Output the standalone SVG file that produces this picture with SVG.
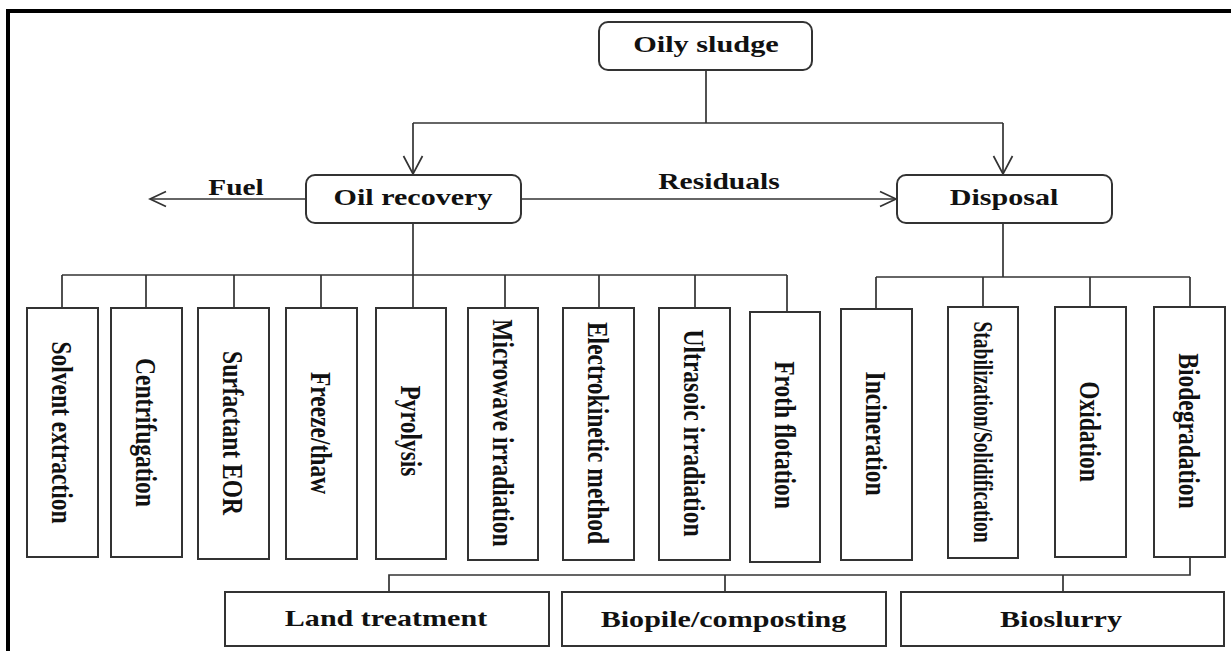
<svg xmlns="http://www.w3.org/2000/svg" width="1231" height="651" viewBox="0 0 1231 651">
<style>
.box{fill:#fff;stroke:#333;stroke-width:2}
.ln{fill:none;stroke:#333;stroke-width:1.7}
.t{font-family:"Liberation Serif","Times New Roman",serif;font-weight:bold;font-size:23.5px;fill:#111;text-anchor:middle}
</style>
<defs>
<marker id="arrH" markerUnits="userSpaceOnUse" markerWidth="20" markerHeight="20" viewBox="-18 -10 20 20" refX="0" refY="0" orient="auto">
<path d="M-16,-7.5 L0,0 L-16,7.5" fill="none" stroke="#333" stroke-width="1.7"/>
</marker>
<marker id="arrV" markerUnits="userSpaceOnUse" markerWidth="24" markerHeight="24" viewBox="-20 -12 22 24" refX="0" refY="0" orient="auto">
<path d="M-18,-9.5 L0,0 L-18,9.5" fill="none" stroke="#333" stroke-width="1.7"/>
</marker>
</defs>
<rect width="1231" height="651" fill="#fff"/>
<path d="M8,660 V11 H1240" fill="none" stroke="#000" stroke-width="4"/>

<g id="connectors">
<path class="ln" d="M706,70 V123"/>
<path class="ln" d="M413,123 H1003"/>
<path class="ln" d="M413,123 V174" marker-end="url(#arrV)"/>
<path class="ln" d="M1003,123 V174" marker-end="url(#arrV)"/>
<path class="ln" d="M306,199 H150" marker-end="url(#arrH)"/>
<path class="ln" d="M521,199 H896" marker-end="url(#arrH)"/>
<path class="ln" d="M413,223 V275"/>
<path class="ln" d="M62,275 H787"/>
<path class="ln" d="M62,275 V308 M146,275 V308 M234,275 V308 M321,275 V308 M413,275 V308 M505,275 V308 M599,275 V308 M695,275 V308 M787,275 V312"/>
<path class="ln" d="M1003,223 V277"/>
<path class="ln" d="M876,277 H1190"/>
<path class="ln" d="M876,277 V309 M983,277 V307 M1090,277 V307 M1190,277 V307"/>
<path class="ln" d="M1190,557 V575 H389 V592 M725,575 V592 M1063,575 V592"/>
<text class="t" transform="translate(236,195) scale(1.25,1)">Fuel</text>
<text class="t" transform="translate(719,189) scale(1.26,1)">Residuals</text>
</g>

<g id="oily-sludge">
<rect class="box" x="599" y="22" width="213" height="48" rx="9"/>
<text class="t" transform="translate(706,52) scale(1.29,1)">Oily sludge</text>
</g>
<g id="oil-recovery">
<rect class="box" x="306" y="175" width="215" height="48" rx="9"/>
<text class="t" transform="translate(413,205) scale(1.28,1)">Oil recovery</text>
</g>
<g id="disposal">
<rect class="box" x="897" y="175" width="215" height="48" rx="9"/>
<text class="t" transform="translate(1004,205) scale(1.28,1)">Disposal</text>
</g>

<g id="solvent-extraction">
<rect class="box" x="27" y="308" width="71" height="249"/>
<text class="t" transform="translate(62.5,432.5) rotate(90) scale(1,1.27)" y="8">Solvent extraction</text>
</g>
<g id="centrifugation">
<rect class="box" x="111" y="308" width="71" height="249"/>
<text class="t" transform="translate(146.5,432.5) rotate(90) scale(1,1.27)" y="8">Centrifugation</text>
</g>
<g id="surfactant-eor">
<rect class="box" x="198" y="308" width="71" height="251"/>
<text class="t" transform="translate(233.5,433) rotate(90) scale(1,1.27)" y="8">Surfactant EOR</text>
</g>
<g id="freeze-thaw">
<rect class="box" x="286" y="308" width="71" height="251"/>
<text class="t" transform="translate(321.5,433) rotate(90) scale(1,1.27)" y="8">Freeze/thaw</text>
</g>
<g id="pyrolysis">
<rect class="box" x="376" y="308" width="70" height="251"/>
<text class="t" transform="translate(411,431) rotate(90) scale(1,1.27)" y="8">Pyrolysis</text>
</g>
<g id="microwave-irradiation">
<rect class="box" x="468" y="308" width="70" height="252"/>
<text class="t" transform="translate(503,433) rotate(90) scale(1,1.27)" y="8">Microwave irradiation</text>
</g>
<g id="electrokinetic-method">
<rect class="box" x="563" y="308" width="71" height="252"/>
<text class="t" transform="translate(598.5,433) rotate(90) scale(1,1.27)" y="8">Electrokinetic method</text>
</g>
<g id="ultrasoic-irradiation">
<rect class="box" x="659" y="308" width="71" height="252"/>
<text class="t" transform="translate(694.5,433) rotate(90) scale(1,1.27)" y="8">Ultrasoic irradiation</text>
</g>
<g id="froth-flotation">
<rect class="box" x="750" y="312" width="70" height="250"/>
<text class="t" transform="translate(785,435) rotate(90) scale(1,1.27)" y="8">Froth flotation</text>
</g>
<g id="incineration">
<rect class="box" x="841" y="309" width="71" height="251"/>
<text class="t" transform="translate(876.5,433.5) rotate(90) scale(1,1.27)" y="8">Incineration</text>
</g>
<g id="stabilization-solidification">
<rect class="box" x="948" y="307" width="70" height="251"/>
<text class="t" transform="translate(984,432) rotate(90) scale(0.83,1.2)" y="8">Stabilization/Solidification</text>
</g>
<g id="oxidation">
<rect class="box" x="1055" y="307" width="71" height="250"/>
<text class="t" transform="translate(1090.5,431.5) rotate(90) scale(1,1.27)" y="8">Oxidation</text>
</g>
<g id="biodegradation">
<rect class="box" x="1154" y="307" width="71" height="250"/>
<text class="t" transform="translate(1189.5,431) rotate(90) scale(1,1.27)" y="8">Biodegradation</text>
</g>

<g id="land-treatment">
<rect class="box" x="225" y="592" width="324" height="54"/>
<text class="t" transform="translate(386,626) scale(1.28,1)">Land treatment</text>
</g>
<g id="biopile-composting">
<rect class="box" x="562" y="592" width="324" height="54"/>
<text class="t" transform="translate(723.5,627) scale(1.28,1)">Biopile/composting</text>
</g>
<g id="bioslurry">
<rect class="box" x="901" y="592" width="323" height="54"/>
<text class="t" transform="translate(1061,627) scale(1.28,1)">Bioslurry</text>
</g>
</svg>
